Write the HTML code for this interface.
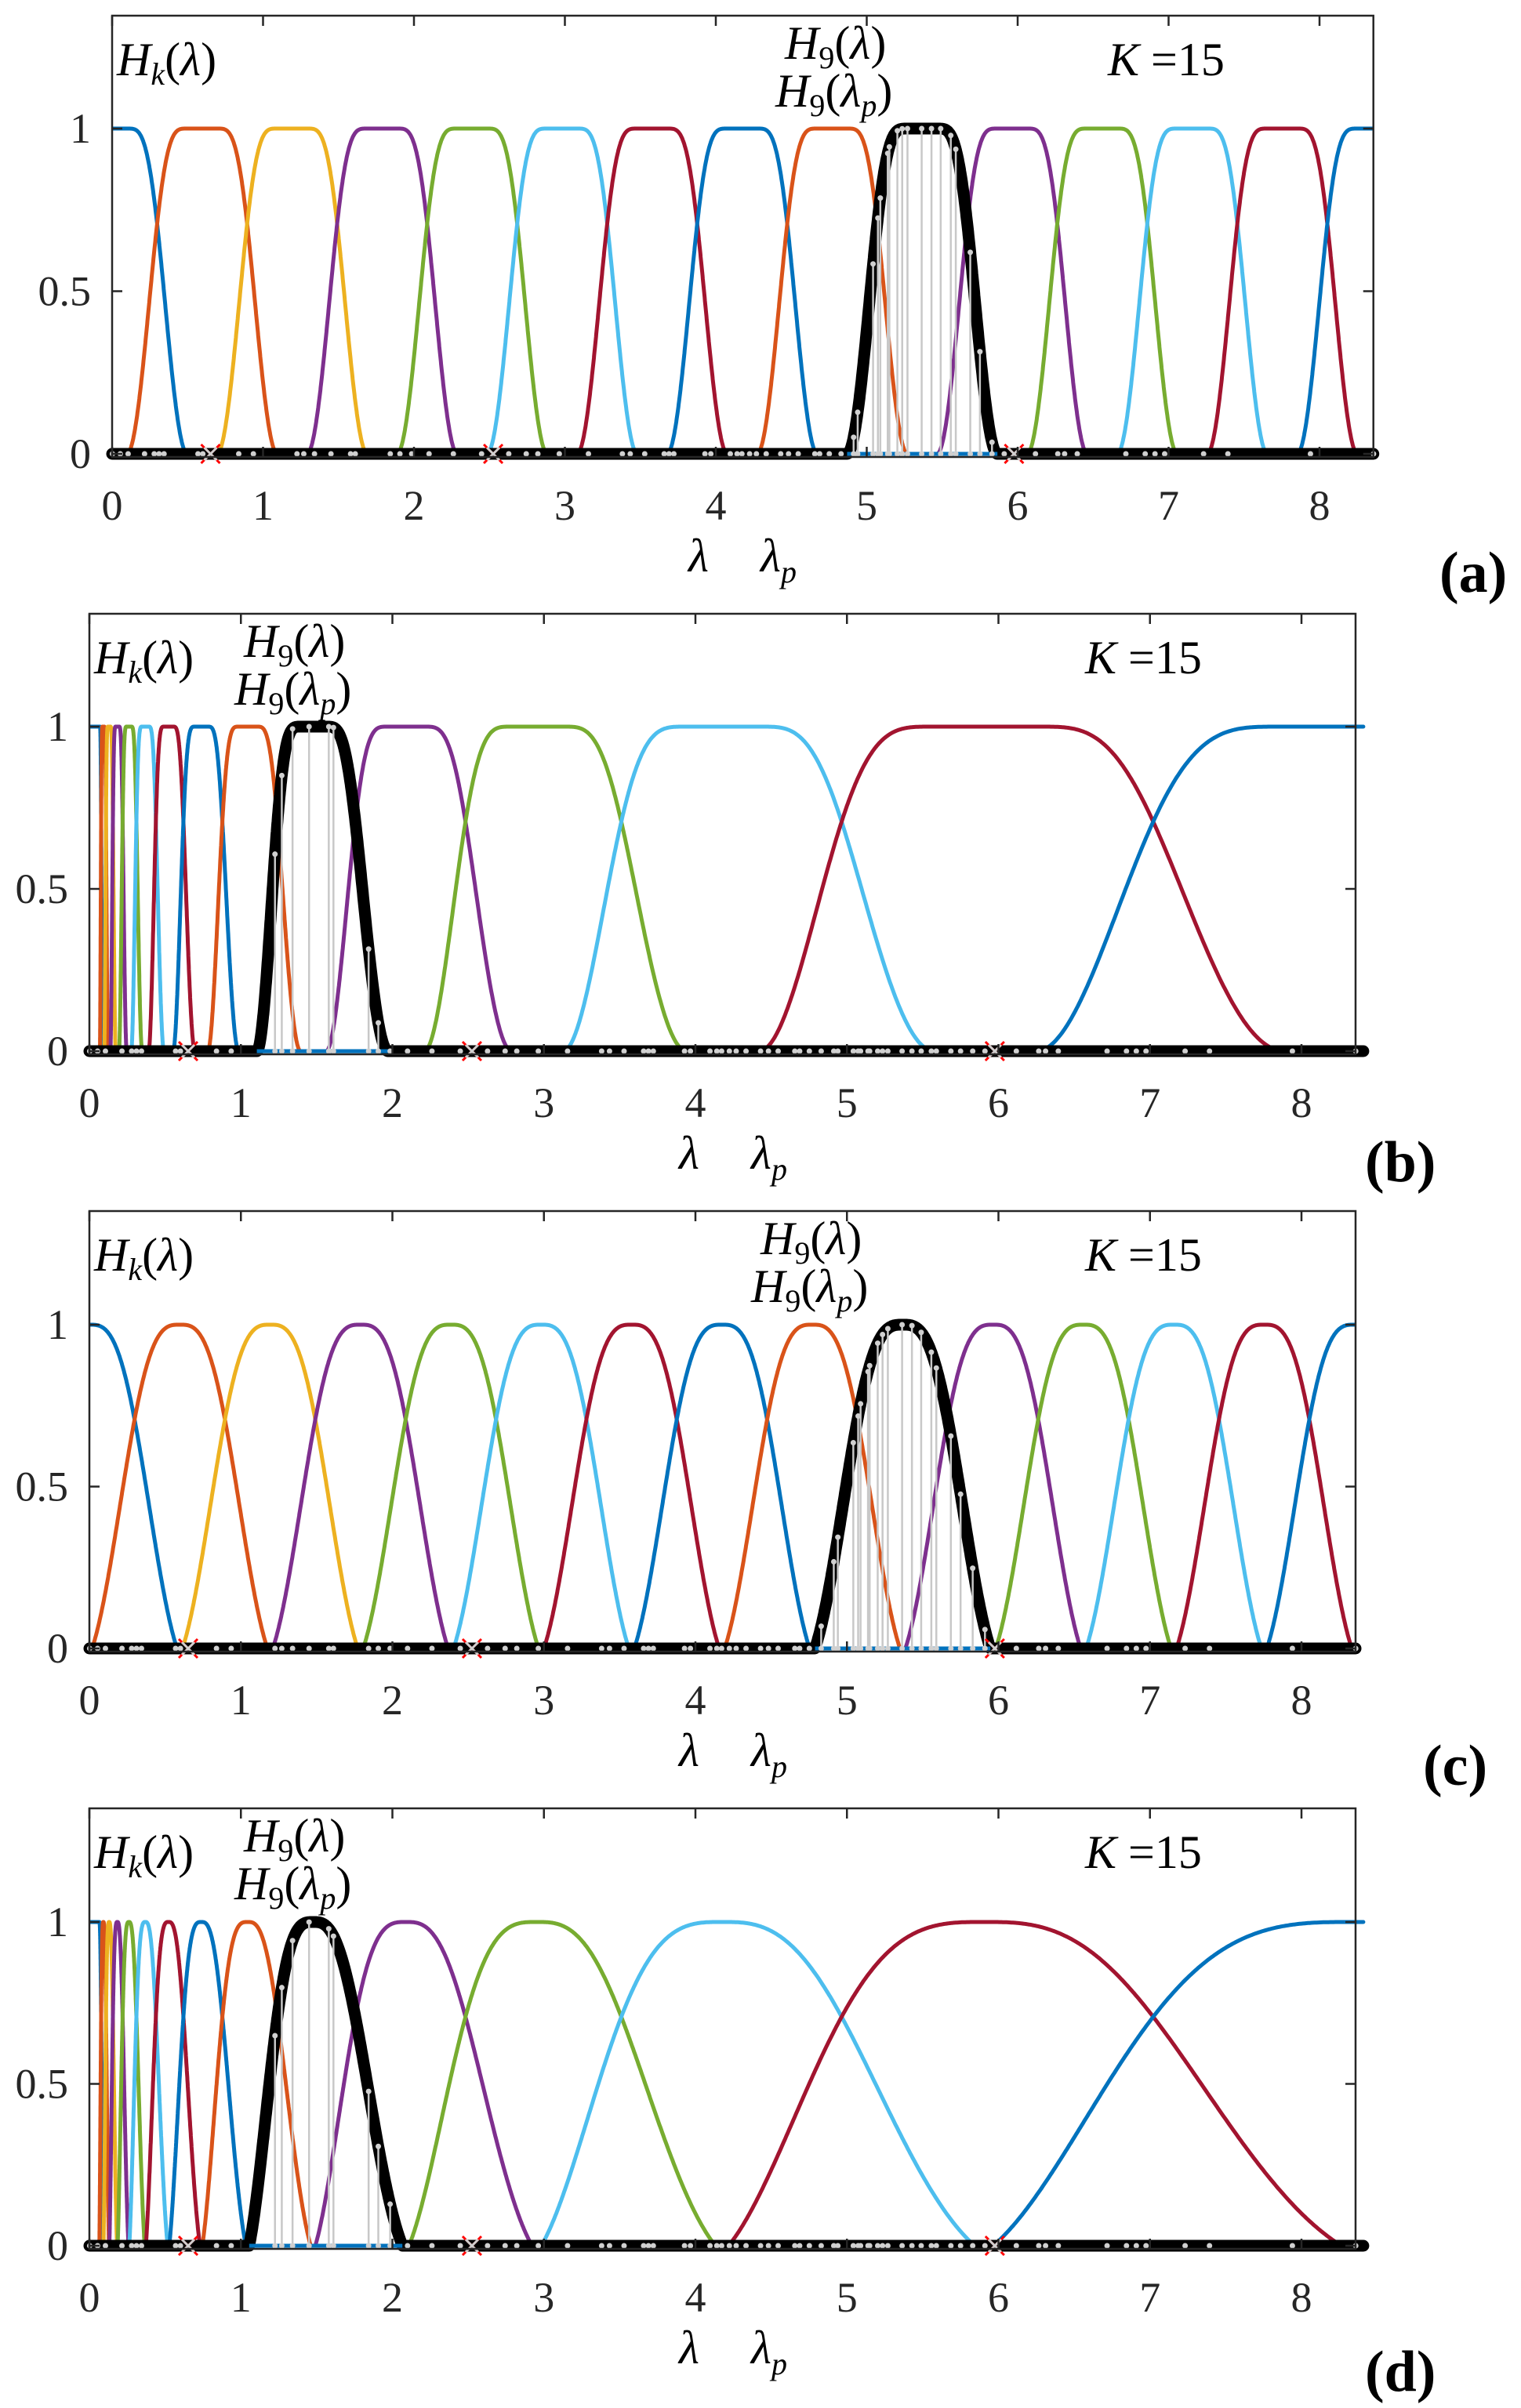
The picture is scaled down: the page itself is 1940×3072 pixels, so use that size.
<!DOCTYPE html>
<html><head><meta charset="utf-8">
<style>
html,body{margin:0;padding:0;background:#fff;}
svg{display:block;}
</style></head>
<body>
<svg id="s" width="1940" height="3072" xmlns="http://www.w3.org/2000/svg" font-family="'Liberation Serif', serif"></svg>
<script>
const S=document.getElementById('s');
const C=['#0072BD','#D95319','#EDB120','#7E2F8E','#77AC30','#4DBEEE','#A2142F'];
const LP=[0.002,0.054,0.106,0.215,0.279,0.311,0.344,0.569,0.601,0.839,0.936,1.225,1.27,1.341,1.45,1.58,1.611,1.843,1.907,1.985,2.10,2.261,2.448,2.628,2.744,2.821,2.963,3.156,3.381,3.433,3.529,3.658,3.690,3.722,3.928,3.967,4.096,4.141,4.173,4.224,4.269,4.334,4.430,4.482,4.546,4.656,4.688,4.752,4.830,4.913,4.94,5.042,5.074,5.09,5.139,5.15,5.203,5.235,5.27,5.364,5.429,5.49,5.557,5.59,5.686,5.750,5.83,5.911,6.118,6.266,6.311,6.395,6.717,6.845,6.910,6.974,7.232,7.393,7.940,8.358];
const XM=[0.652,2.525,5.976];
const L=8.35,SP=L/14;
function nu(x,lin){x=Math.max(0,Math.min(1,x));const s=x*x*(3-2*x);return lin?0.5*(x+s):s;}
function H(k,u,h,lin){
  const a=k-0.5-h,b=k-0.5+h,c=k+0.5-h,d=k+0.5+h;
  if(k===0&&u<c)return 1;
  if(k===14&&u>b)return 1;
  if(u<=a||u>=d)return 0;
  if(u<b)return Math.sin(Math.PI/2*nu((u-a)/(2*h),lin));
  if(u<=c)return 1;
  return Math.cos(Math.PI/2*nu((u-c)/(2*h),lin));
}
function el(t,at,txt){const e=document.createElementNS('http://www.w3.org/2000/svg',t);for(const k in at)e.setAttribute(k,at[k]);if(txt!==undefined)e.innerHTML=txt;S.appendChild(e);return e;}
const TF="'Liberation Serif', serif";
const P=[
 {x0:143,xu:192.5,top:20,zero:579,yu:415,log:false,lin:false,h9x:1001,lab:'(a)',lx:1836,ly:755},
 {x0:114,xu:193.25,top:783,zero:1341,yu:414,log:true,lin:false,h9x:311,lab:'(b)',lx:1741,ly:1507},
 {x0:114,xu:193.25,top:1545,zero:2103,yu:413,log:false,lin:true,h9x:970,lab:'(c)',lx:1815,ly:2277},
 {x0:114,xu:193.25,top:2307,zero:2865,yu:413,log:true,lin:true,h9x:311,lab:'(d)',lx:1741,ly:3050}];
P.forEach(p=>{
  const xmax=8.357,h=p.lin?0.47:0.335;
  const X=l=>p.x0+l*p.xu, Y=v=>p.zero-v*p.yu;
  const U=l=>p.log?(l<=0?-50:14+2*Math.log2(l/L)):l/SP;
  const xr=X(xmax),bot=p.zero+4;
  let ls=[0];
  if(p.log){for(let u=-3;u<=14.02;u+=0.004)ls.push(L*Math.pow(2,(u-14)/2));}
  else{for(let l=0.002;l<=xmax;l+=0.002)ls.push(l);}
  ls.push(xmax);
  const path=k=>ls.map((l,i)=>(i?'L':'M')+X(l).toFixed(1)+' '+Y(H(k,U(l),h,p.lin)).toFixed(1)).join('');
  for(let k=0;k<15;k++){if(k===9)continue;el('path',{d:path(k),fill:'none',stroke:C[k%7],'stroke-width':5,'stroke-linejoin':'round'});}
  el('path',{d:path(9),fill:'none',stroke:C[2],'stroke-width':5});
  const a9=9-0.5-h,d9=9+0.5+h;
  const la=p.log?L*Math.pow(2,(a9-14)/2):a9*SP, ld=p.log?L*Math.pow(2,(d9-14)/2):d9*SP;
  el('path',{d:path(9),fill:'none',stroke:'#000','stroke-width':15,'stroke-linejoin':'round','stroke-linecap':'round'});
  el('line',{x1:X(la),y1:p.zero,x2:X(ld),y2:p.zero,stroke:C[0],'stroke-width':5});
  LP.forEach(l=>{const v=H(9,U(l),h,p.lin);const x=X(l);
    if(v>0.001){el('line',{x1:x,y1:p.zero,x2:x,y2:Y(v),stroke:'#c8c8c8','stroke-width':2.5});el('circle',{cx:x,cy:Y(v),r:3.5,fill:'#d0d0d0'});}
    el('circle',{cx:x,cy:p.zero,r:3.5,fill:'#d0d0d0'});});
  XM.forEach(l=>{const x=X(l),y=p.zero,s=12;
    el('path',{d:`M${x-s} ${y-s}L${x+s} ${y+s}M${x-s} ${y+s}L${x+s} ${y-s}`,stroke:'#ff0000','stroke-width':3});
    el('path',{d:`M${x-8} ${y-8}L${x+8} ${y+8}M${x-8} ${y+8}L${x+8} ${y-8}`,stroke:'#d0d0d0','stroke-width':3});});
  el('rect',{x:p.x0,y:p.top,width:xr-p.x0,height:bot-p.top,fill:'none',stroke:'#262626','stroke-width':2.5});
  for(let i=0;i<=8;i++){const x=X(i);
    el('line',{x1:x,y1:p.top,x2:x,y2:p.top+13,stroke:'#262626','stroke-width':2.5});
    el('line',{x1:x,y1:bot,x2:x,y2:bot-13,stroke:'#262626','stroke-width':2.5});
    el('text',{x:x,y:p.zero+84,'font-size':54,'text-anchor':'middle','font-family':TF,fill:'#262626'},i);}
  [[0,'0'],[0.5,'0.5'],[1,'1']].forEach(([v,t])=>{const y=Y(v);
    el('line',{x1:p.x0,y1:y,x2:p.x0+13,y2:y,stroke:'#262626','stroke-width':2.5});
    el('line',{x1:xr,y1:y,x2:xr-13,y2:y,stroke:'#262626','stroke-width':2.5});
    el('text',{x:p.x0-27,y:y+18,'font-size':54,'text-anchor':'end','font-family':TF,fill:'#262626'},t);});
  const T=(x,y,s,html,extra)=>el('text',Object.assign({x:x,y:y,'font-size':s,'font-family':TF,fill:'#000'},extra||{}),html);
  T(p.x0+6,p.top+76,60,'<tspan font-style="italic">H</tspan><tspan font-size="40" dy="12" font-style="italic">k</tspan><tspan dy="-12">(</tspan><tspan font-style="italic">λ</tspan>)');
  T(p.h9x,p.top+55,60,'<tspan font-style="italic">H</tspan><tspan font-size="40" dy="12">9</tspan><tspan dy="-12">(</tspan><tspan font-style="italic">λ</tspan>)');
  T(p.h9x-12,p.top+116,60,'<tspan font-style="italic">H</tspan><tspan font-size="40" dy="12">9</tspan><tspan dy="-12">(</tspan><tspan font-style="italic">λ</tspan><tspan font-size="40" dy="12" font-style="italic">p</tspan><tspan dy="-12">)</tspan>');
  T(p.x0+1270,p.top+76,60,'<tspan font-style="italic">K</tspan> =15');
  const cx=p.x0+(p===P[0]?735:752);
  T(cx,p.zero+150,60,'λ',{'font-style':'italic'});
  T(cx+92,p.zero+150,60,'λ<tspan font-size="40" dy="14">p</tspan>',{'font-style':'italic'});
  T(p.lx,p.ly,74,p.lab,{'font-weight':'bold'});
});
</script>
</body></html>
